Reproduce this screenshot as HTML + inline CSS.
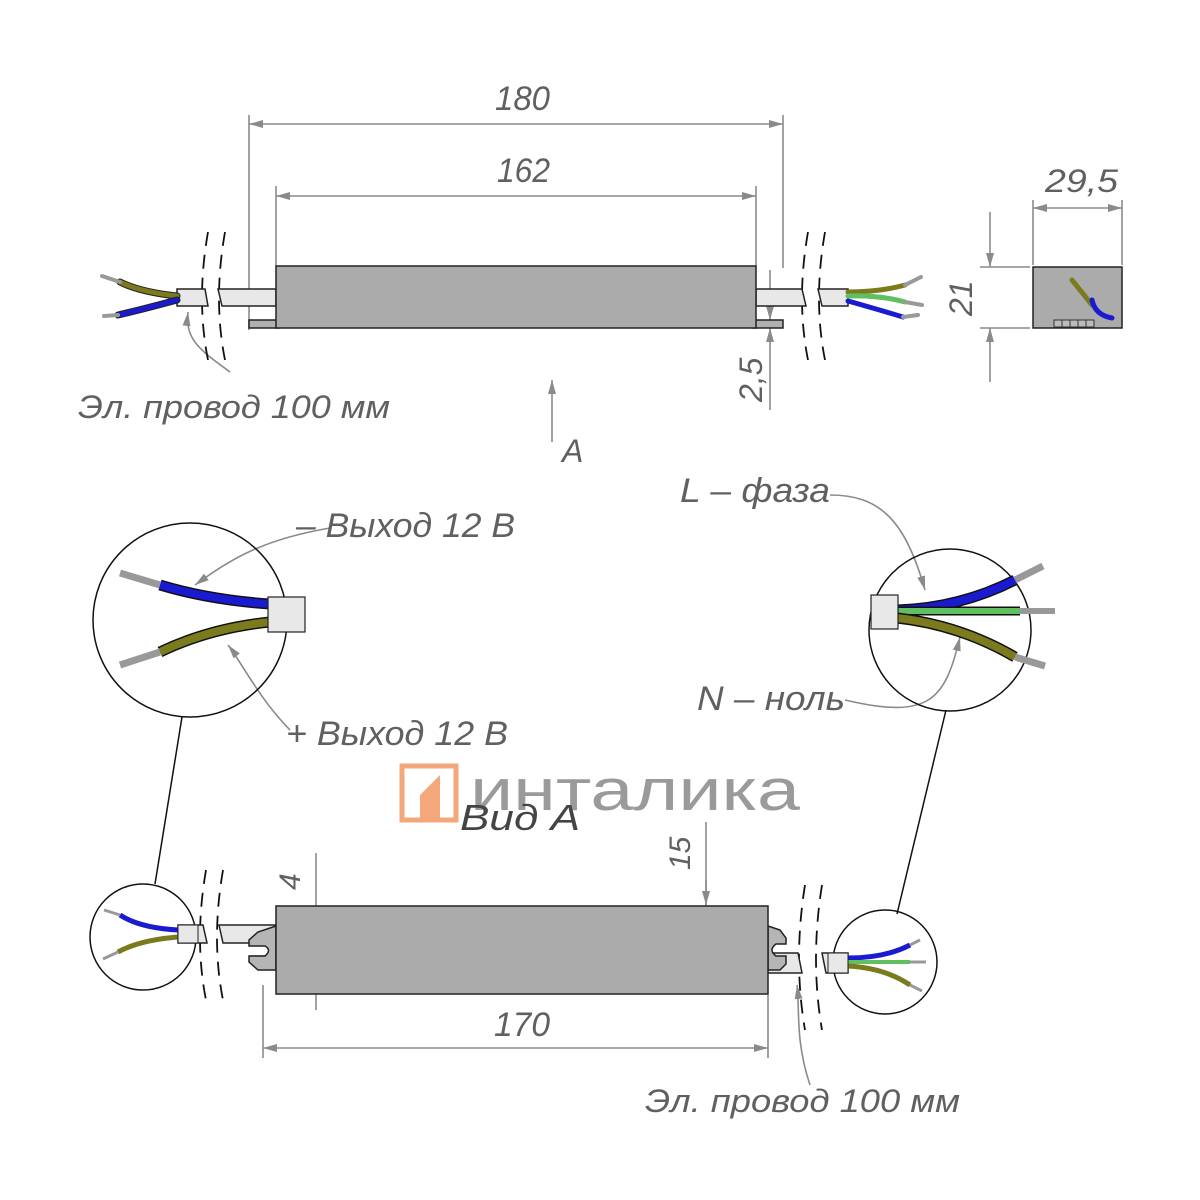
<!DOCTYPE html>
<html><head><meta charset="utf-8"><style>
html,body{margin:0;padding:0;background:#fff}
svg{display:block}
text{font-family:"Liberation Sans","DejaVu Sans",sans-serif;font-style:italic;fill:#606060}
</style></head><body>
<svg width="1200" height="1200" viewBox="0 0 1200 1200" xmlns="http://www.w3.org/2000/svg">
<defs>
<marker id="ar" markerWidth="14" markerHeight="8" refX="14" refY="4" orient="auto" markerUnits="userSpaceOnUse"><path d="M0,0 L14,4 L0,8 z" fill="#8a8a8a"/></marker>
</defs>
<g stroke="#8a8a8a" stroke-width="1.6" fill="none">
<line x1="249" y1="115" x2="249" y2="330"/><line x1="783" y1="115" x2="783" y2="268"/>
<line x1="300" y1="124" x2="249" y2="124" marker-end="url(#ar)"/><line x1="300" y1="124" x2="783" y2="124" marker-end="url(#ar)"/>
<line x1="276" y1="186" x2="276" y2="266"/><line x1="756" y1="186" x2="756" y2="266"/>
<line x1="500" y1="196" x2="276" y2="196" marker-end="url(#ar)"/><line x1="500" y1="196" x2="756" y2="196" marker-end="url(#ar)"/>
<line x1="770" y1="270" x2="770" y2="320" marker-end="url(#ar)"/><line x1="770" y1="410" x2="770" y2="328" marker-end="url(#ar)"/>
<line x1="1033" y1="200" x2="1033" y2="265"/><line x1="1122" y1="200" x2="1122" y2="265"/>
<line x1="1080" y1="208" x2="1033" y2="208" marker-end="url(#ar)"/><line x1="1080" y1="208" x2="1122" y2="208" marker-end="url(#ar)"/>
<line x1="980" y1="267" x2="1030" y2="267"/><line x1="980" y1="328" x2="1030" y2="328"/>
<line x1="990" y1="212" x2="990" y2="267" marker-end="url(#ar)"/><line x1="990" y1="382" x2="990" y2="328" marker-end="url(#ar)"/>
<line x1="552" y1="442" x2="552" y2="380" marker-end="url(#ar)"/>
<line x1="263" y1="985" x2="263" y2="1058"/><line x1="768" y1="995" x2="768" y2="1058"/>
<line x1="500" y1="1048" x2="263" y2="1048" marker-end="url(#ar)"/><line x1="500" y1="1048" x2="768" y2="1048" marker-end="url(#ar)"/>
<line x1="316" y1="853" x2="316" y2="1010"/>
<line x1="316" y1="910" x2="316" y2="945" marker-end="url(#ar)"/><line x1="316" y1="985" x2="316" y2="956" marker-end="url(#ar)"/>
<line x1="250" y1="945" x2="325" y2="945"/><line x1="250" y1="956" x2="325" y2="956"/>
<line x1="706" y1="822" x2="706" y2="968" /><line x1="706" y1="880" x2="706" y2="905" marker-end="url(#ar)"/>
<line x1="690" y1="950" x2="770" y2="950"/>
<path d="M230,372 C200,350 185,340 188,312" marker-end="url(#ar)"/>
<path d="M330,528 C260,540 230,560 195,585" marker-end="url(#ar)"/>
<path d="M290,730 C260,700 240,660 228,645" marker-end="url(#ar)"/>
<path d="M830,495 C880,495 905,520 925,590" marker-end="url(#ar)"/>
<path d="M845,700 C930,720 945,700 960,637" marker-end="url(#ar)"/>
<path d="M810,1085 C795,1040 800,1010 797,985" marker-end="url(#ar)"/>
</g>
<g fill="none" stroke="#111" stroke-width="1.8" stroke-dasharray="14,9">
<path d="M208,232 Q196,300 208,360"/><path d="M225,232 Q213,300 225,360"/>
<path d="M808,232 Q796,300 808,360"/><path d="M825,232 Q813,300 825,360"/>
<path d="M206,870 Q194,940 206,1000"/><path d="M223,870 Q211,940 223,1000"/>
<path d="M805,885 Q793,960 805,1030"/><path d="M822,885 Q810,960 822,1030"/>
</g>
<g stroke="#222" stroke-width="1.5">
<rect x="249" y="320" width="30" height="8" fill="#b0b0b0"/><rect x="753" y="320" width="30" height="8" fill="#b0b0b0"/>
<path d="M177,289 H205 L208,306 H177z" fill="#e8e8e8"/><path d="M218,289 H276 V306 H222z" fill="#e8e8e8"/>
<path d="M756,289 H802 L806,306 H756z" fill="#e8e8e8"/><path d="M818,289 H848 V306 H822z" fill="#e8e8e8"/>
<rect x="276" y="266" width="480" height="62" fill="#ababab"/>
<rect x="1033" y="267" width="89" height="61" fill="#ababab"/>
</g>
<g stroke-linecap="round">
<path d="M177,296 Q140,292 120,282" stroke="#222" stroke-width="7" fill="none"/><path d="M177,296 Q140,292 120,282" stroke="#7b7a1c" stroke-width="5" fill="none"/>
<path d="M177,300 Q140,310 118,315" stroke="#222" stroke-width="7" fill="none"/><path d="M177,300 Q140,310 118,315" stroke="#1a1ad0" stroke-width="5" fill="none"/>
<line x1="120" y1="282" x2="102" y2="276" stroke="#999" stroke-width="4"/><line x1="118" y1="315" x2="104" y2="316" stroke="#999" stroke-width="4"/>
<path d="M848,292 Q880,292 905,285" stroke="#7b7a1c" stroke-width="5" fill="none"/>
<path d="M848,296 Q880,295 905,302" stroke="#60c060" stroke-width="5" fill="none"/>
<path d="M848,301 Q880,310 903,317" stroke="#1a1ad0" stroke-width="5" fill="none"/>
<line x1="905" y1="285" x2="921" y2="277" stroke="#999" stroke-width="4"/><line x1="905" y1="302" x2="922" y2="305" stroke="#999" stroke-width="4"/><line x1="903" y1="317" x2="918" y2="315" stroke="#999" stroke-width="4"/>
<path d="M1072,280 L1092,305" stroke="#7b7a1c" stroke-width="5"/><path d="M1092,300 Q1095,315 1112,318" stroke="#1a1ad0" stroke-width="5" fill="none"/>
</g>
<g stroke="#333" fill="#bbb" stroke-width="1"><rect x="1054" y="320" width="8" height="7"/><rect x="1062" y="320" width="8" height="7"/><rect x="1070" y="320" width="8" height="7"/><rect x="1078" y="320" width="8" height="7"/><rect x="1086" y="320" width="8" height="7"/></g>
<circle cx="190" cy="620" r="97" fill="none" stroke="#111" stroke-width="1.5"/>
<circle cx="950" cy="630" r="81" fill="none" stroke="#111" stroke-width="1.5"/>
<g stroke-linecap="butt" fill="none">
<path d="M270,604 Q210,600 160,585" stroke="#111" stroke-width="11"/><path d="M270,604 Q210,600 160,585" stroke="#1a1ad0" stroke-width="8"/>
<path d="M270,622 Q210,628 160,652" stroke="#111" stroke-width="11"/><path d="M270,622 Q210,628 160,652" stroke="#7b7a1c" stroke-width="8"/>
<line x1="160" y1="585" x2="120" y2="573" stroke="#999" stroke-width="7"/><line x1="160" y1="652" x2="120" y2="665" stroke="#999" stroke-width="7"/>
<path d="M897,610 Q960,608 1015,580" stroke="#111" stroke-width="11"/><path d="M897,610 Q960,608 1015,580" stroke="#1a1ad0" stroke-width="8"/>
<line x1="897" y1="611" x2="1020" y2="611" stroke="#111" stroke-width="9"/><line x1="897" y1="611" x2="1020" y2="611" stroke="#60c060" stroke-width="6"/>
<path d="M897,618 Q960,625 1015,657" stroke="#111" stroke-width="11"/><path d="M897,618 Q960,625 1015,657" stroke="#7b7a1c" stroke-width="8"/>
<line x1="1015" y1="580" x2="1043" y2="566" stroke="#999" stroke-width="7"/><line x1="1020" y1="611" x2="1055" y2="611" stroke="#999" stroke-width="6"/><line x1="1015" y1="657" x2="1045" y2="666" stroke="#999" stroke-width="7"/>
</g>
<rect x="268" y="597" width="37" height="35" fill="#e8e8e8" stroke="#222" stroke-width="1.2"/>
<rect x="871" y="595" width="27" height="34" fill="#e8e8e8" stroke="#222" stroke-width="1.2"/>
<line x1="182" y1="717" x2="155" y2="884" stroke="#111" stroke-width="1.5"/>
<line x1="946" y1="710" x2="897" y2="914" stroke="#111" stroke-width="1.5"/>
<g stroke="#222" stroke-width="1.5">
<path d="M178,925 H203 L207,943 H178z" fill="#e8e8e8"/><path d="M219,925 H276 V943 H223z" fill="#e8e8e8"/>
<path d="M760,953 H798 L802,973 H760z" fill="#e8e8e8"/><path d="M822,953 H848 V973 H826z" fill="#e8e8e8"/>
<path d="M276,926 L258,932 L249,940 V946 H265 Q272,950 265,956 H249 V962 L258,970 H276z" fill="#b5b5b5"/>
<path d="M768,926 L780,930 L786,938 V944 H776 Q768,950 776,956 H786 V964 L780,970 H768z" fill="#b5b5b5"/>
<rect x="276" y="906" width="492" height="88" fill="#ababab"/>
</g>
<circle cx="143" cy="937" r="53" fill="none" stroke="#111" stroke-width="1.5"/>
<circle cx="885" cy="962" r="52" fill="none" stroke="#111" stroke-width="1.5"/>
<g fill="none" stroke-linecap="butt">
<path d="M178,930 Q140,928 120,915" stroke="#1a1ad0" stroke-width="5"/><path d="M178,937 Q140,940 118,952" stroke="#7b7a1c" stroke-width="5"/>
<line x1="120" y1="915" x2="104" y2="910" stroke="#999" stroke-width="3"/><line x1="118" y1="952" x2="103" y2="959" stroke="#999" stroke-width="3"/>
<path d="M848,958 Q885,958 910,945" stroke="#1a1ad0" stroke-width="5"/><line x1="848" y1="962" x2="910" y2="962" stroke="#60c060" stroke-width="4"/><path d="M848,966 Q885,968 910,985" stroke="#7b7a1c" stroke-width="5"/>
<line x1="910" y1="945" x2="920" y2="940" stroke="#999" stroke-width="3"/><line x1="910" y1="962" x2="926" y2="962" stroke="#999" stroke-width="3"/><line x1="910" y1="985" x2="922" y2="991" stroke="#999" stroke-width="3"/>
</g>
<rect x="178" y="925" width="20" height="18" fill="#e8e8e8" stroke="#222"/>
<rect x="828" y="953" width="20" height="20" fill="#e8e8e8" stroke="#222"/>
<rect x="402" y="766" width="54" height="54" fill="none" stroke="#f4a77a" stroke-width="5"/>
<path d="M420,795 L440,775 L440,820 L420,820z" fill="#f4a77a"/>
<text x="470" y="810" font-size="58" textLength="330" lengthAdjust="spacingAndGlyphs" style="font-style:normal;fill:#9a9a9a">инталика</text>
<text x="495" y="110" font-size="34" textLength="55" lengthAdjust="spacingAndGlyphs">180</text>
<text x="497" y="182" font-size="34" textLength="53" lengthAdjust="spacingAndGlyphs">162</text>
<text x="1045" y="192" font-size="32" textLength="73" lengthAdjust="spacingAndGlyphs">29,5</text>
<text transform="translate(972,316) rotate(-90)" font-size="32">21</text>
<text transform="translate(762,402) rotate(-90)" font-size="32">2,5</text>
<text x="78" y="418" font-size="32" textLength="312" lengthAdjust="spacingAndGlyphs">Эл. провод 100 мм</text>
<text x="562" y="462" font-size="32">A</text>
<text x="296" y="537" font-size="34" textLength="219" lengthAdjust="spacingAndGlyphs">– Выход 12 В</text>
<text x="286" y="745" font-size="34" textLength="222" lengthAdjust="spacingAndGlyphs">+ Выход 12 В</text>
<text x="680" y="502" font-size="34" textLength="150" lengthAdjust="spacingAndGlyphs">L – фаза</text>
<text x="697" y="710" font-size="34" textLength="148" lengthAdjust="spacingAndGlyphs">N – ноль</text>
<text x="460" y="830" font-size="36" textLength="120" lengthAdjust="spacingAndGlyphs" style="fill:#444">Вид А</text>
<text transform="translate(300,890) rotate(-90)" font-size="30">4</text>
<text transform="translate(690,870) rotate(-90)" font-size="30">15</text>
<text x="494" y="1036" font-size="34" textLength="56" lengthAdjust="spacingAndGlyphs">170</text>
<text x="645" y="1112" font-size="32" textLength="315" lengthAdjust="spacingAndGlyphs">Эл. провод 100 мм</text>
</svg>
</body></html>
